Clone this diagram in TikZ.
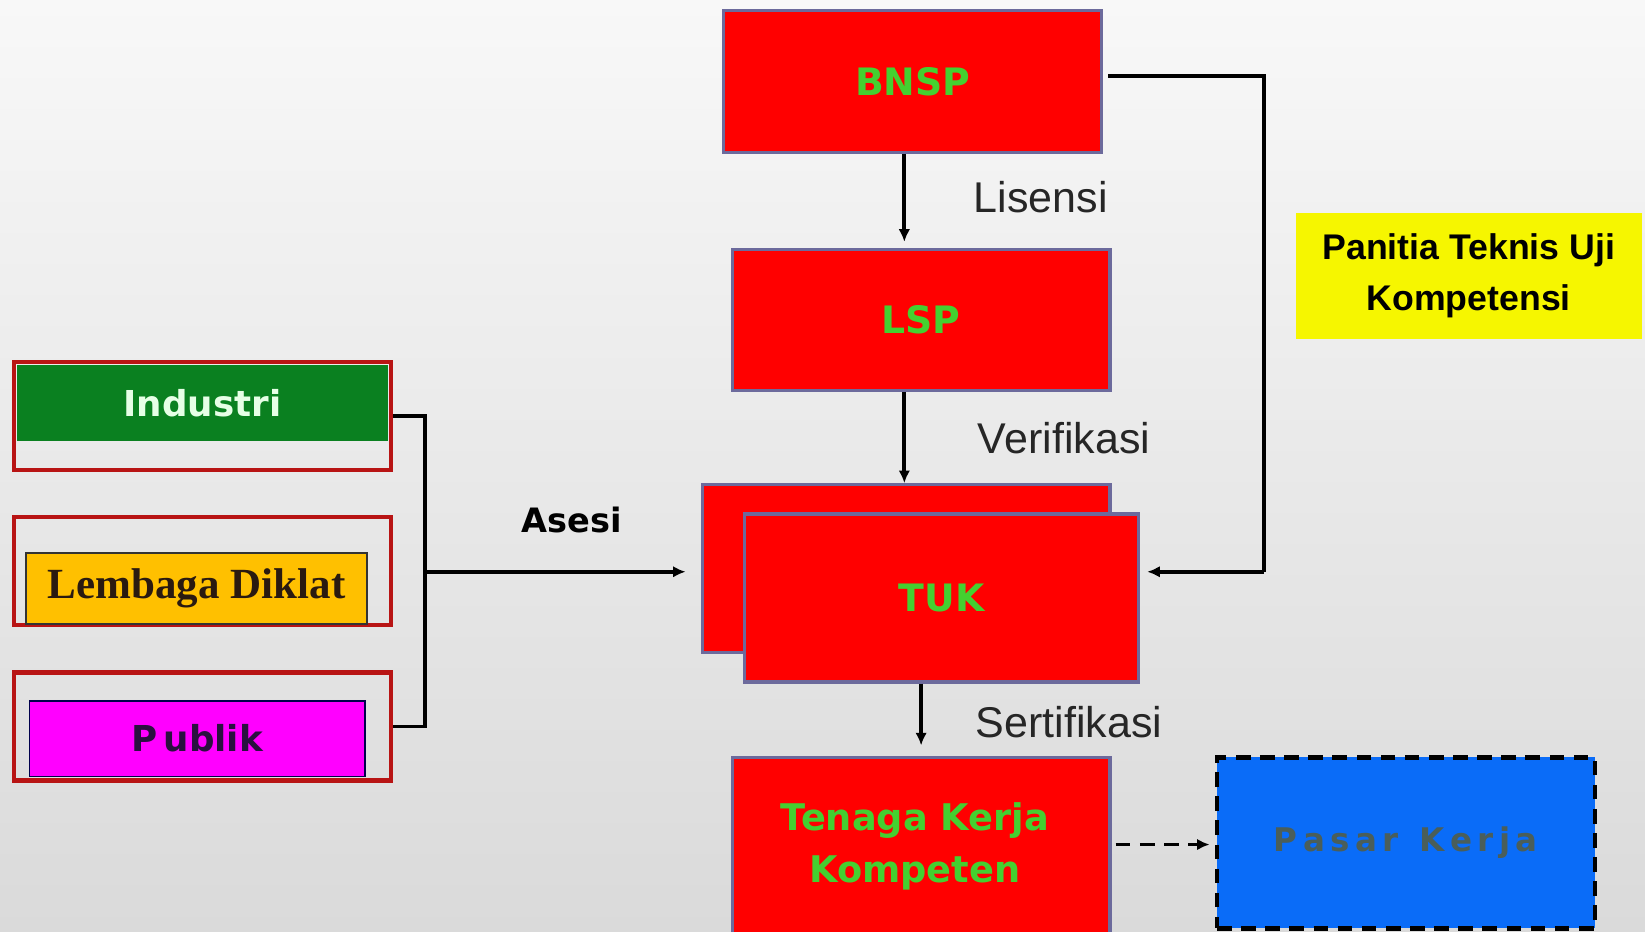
\documentclass[tikz,border=0pt]{standalone}
\usepackage{fontspec}
\setmainfont{DejaVu Sans}
\newfontfamily\boxfont{DejaVu Sans}
\newfontfamily\labelfont{Liberation Sans}
\newfontfamily\serifbold{Liberation Serif}
\newfontfamily\panelfont{Liberation Sans}
\usetikzlibrary{arrows.meta,calc}

\definecolor{bgtop}{HTML}{F8F8F8}
\definecolor{bgbottom}{HTML}{DADADA}
\definecolor{boxred}{HTML}{FF0000}
\definecolor{boxedge}{HTML}{6C6A9C}
\definecolor{boxtext}{HTML}{44D030}
\definecolor{frame}{HTML}{B81414}
\definecolor{indgreen}{HTML}{0A8020}
\definecolor{indtext}{HTML}{E6FFE6}
\definecolor{diklat}{HTML}{FFC000}
\definecolor{diklattext}{HTML}{2A1A10}
\definecolor{publik}{HTML}{FF00FF}
\definecolor{publiktext}{HTML}{2A1040}
\definecolor{panel}{HTML}{F6F600}
\definecolor{market}{HTML}{0A6CF8}
\definecolor{markettext}{HTML}{4A5E5A}

\tikzset{
  redbox/.style={draw=boxedge, line width=3pt, fill=boxred, inner sep=0pt,
    text=boxtext, font=\boxfont\bfseries\fontsize{36}{44}\selectfont, align=center},
  framebox/.style={draw=frame, line width=4pt, inner sep=0pt,
    minimum width=360pt, minimum height=103pt},
  innerbox/.style={inner sep=0pt, line width=1.5pt},
  conn/.style={line width=3.6pt, draw=black},
  arr/.style={conn, -{Latex[length=12pt,width=11pt]}},
  steplabel/.style={font=\labelfont\fontsize{41}{48}\selectfont, text=black!85,
    anchor=west, inner sep=0pt}
}

\begin{document}
\begin{tikzpicture}[x=1pt,y=-1pt]
\useasboundingbox (0,0) rectangle (1568,888);
\clip (0,0) rectangle (1568,888);
\shade[top color=bgtop, bottom color=bgbottom] (0,0) rectangle (1568,888);

% ---- central chain ----
\node[redbox, minimum width=360pt, minimum height=135pt] (bnsp) at (870,77.5) {BNSP};
\node[redbox, minimum width=360pt, minimum height=134pt] (lsp) at (878,305) {LSP};
\node[redbox, minimum width=388pt, minimum height=160pt] (tukB) at (864,542) {};
\node[redbox, minimum width=375pt, minimum height=160pt] (tuk) at (897.5,570) {TUK};
\node[redbox, minimum width=360pt, minimum height=180pt] (tenaga) at (878,812) {};
\node[text=boxtext, font=\boxfont\bfseries\fontsize{35}{50}\selectfont, align=center,
  inner sep=0pt] (tenagaText) at (872,807) {Tenaga Kerja\\Kompeten};

% ---- market and committee ----
\node[draw=black, dash pattern=on 14pt off 9pt, line width=4pt, fill=market,
  minimum width=360pt, minimum height=163pt, inner sep=0pt,
  text=markettext, font=\boxfont\bfseries\fontsize{31}{38}\selectfont]
  (pasar) at (1340,803.5) {P\,a\,s\,a\,r\hspace{20pt}K\,e\,r\,j\,a};
\node[fill=panel, minimum width=330pt, minimum height=120pt, inner sep=0pt,
  align=center, font=\panelfont\bfseries\fontsize{34}{49}\selectfont]
  (panitia) at (1400,263) {Panitia Teknis Uji\\Kompetensi};

% ---- participant groups ----
\node[framebox] (indA) at (193,396.5) {};
\node[innerbox, fill=indgreen, minimum width=354pt, minimum height=72pt,
  text=indtext, font=\boxfont\bfseries\fontsize{34}{40}\selectfont]
  (ind) at (193,384) {Industri};

\node[framebox] (lemA) at (193,544.5) {};
\node[innerbox, draw=black!80, fill=diklat, minimum width=325pt, minimum height=68pt,
  text=diklattext, font=\serifbold\bfseries\fontsize{41}{48}\selectfont]
  (lem) at (187.5,561) {Lembaga Diklat};

\node[framebox] (pubA) at (193,692.5) {};
\node[innerbox, draw=black!70!blue, fill=publik, minimum width=320pt, minimum height=72pt,
  text=publiktext, font=\boxfont\bfseries\fontsize{34}{40}\selectfont]
  (pub) at (188,704) {P\,ublik};

% ---- connectors ----
\coordinate (bx) at (405,545);
\draw[conn] (indA.east) -| (bx);
\draw[conn] (pubA.east) -| (bx);
\draw[arr, shorten >=15pt] (bx) -- (bx -| tukB.west);
\node[font=\boxfont\bfseries\fontsize{32}{38}\selectfont, inner sep=0pt] (asesi)
  at (545,496) {Asesi};

\draw[arr, shorten >=6pt] ([xshift=-8pt]bnsp.south) -- ([xshift=-8pt]bnsp.south |- lsp.north);
\draw[arr] ([xshift=-16pt]lsp.south) -- ([xshift=-16pt]lsp.south |- tukB.north);
\draw[arr, shorten >=10pt] ([xshift=-19.5pt]tuk.south) -- ([xshift=-19.5pt]tuk.south |- tenaga.north);

\coordinate (rc) at (1205,545);
\draw[conn, shorten <=5pt] ([yshift=5pt]bnsp.east) -| (rc);
\draw[arr, shorten >=7pt] (rc) -- (rc -| tuk.east);

\draw[arr, dash pattern=on 14pt off 9pt, shorten <=4pt, shorten >=5pt]
  ([yshift=7pt]tenaga.east) -- ([yshift=7pt]tenaga.east -| pasar.west);

\node[steplabel] (lis) at (928,188) {Lisensi};
\node[steplabel] (ver) at (932,418) {Verifikasi};
\node[steplabel] (ser) at (930,688) {Sertifikasi};
\end{tikzpicture}
\end{document}
